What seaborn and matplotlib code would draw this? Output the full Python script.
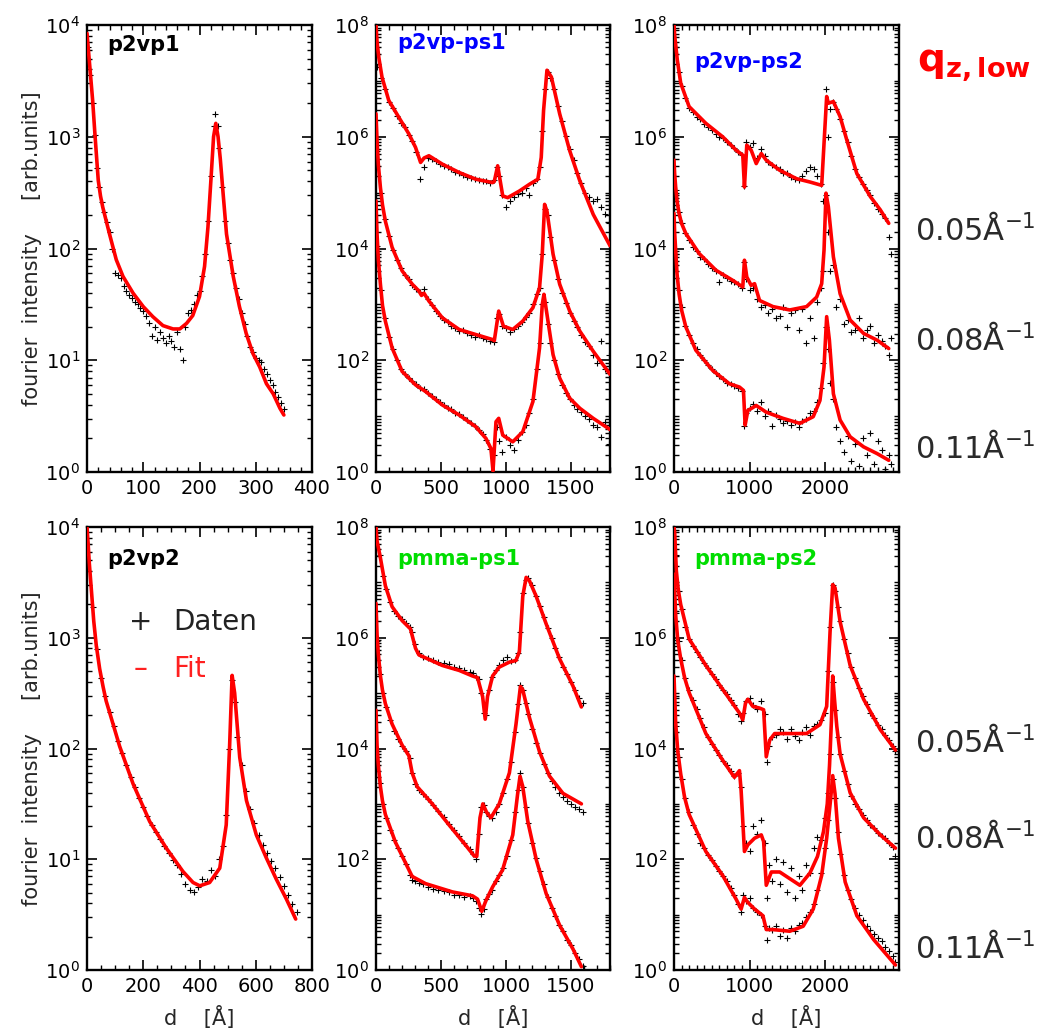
import numpy as np
import matplotlib
matplotlib.use("Agg")
import matplotlib.pyplot as plt
import seaborn as sns
from matplotlib.ticker import FixedLocator, MultipleLocator, LogLocator, NullFormatter

# values are log10(intensity), d in Angstrom

# ---- p2vp1 ----
p2vp1_fit_d = [0, 5, 10, 14, 20, 24, 28, 40, 52, 64, 82, 100, 117, 135, 153, 165, 177, 188, 200, 209,
               215, 221, 225, 229, 233, 237, 242, 248, 260, 271, 283, 295, 307, 319, 331, 343, 350]
p2vp1_fit = [3.925, 3.627, 3.328, 3.03, 2.61, 2.47, 2.37, 2.13, 1.90, 1.75, 1.60, 1.48, 1.39, 1.31, 1.28,
             1.28, 1.33, 1.40, 1.57, 1.84, 2.19, 2.67, 3.0, 3.12, 3.0, 2.8, 2.49, 2.13, 1.75, 1.48, 1.24,
             1.06, 0.94, 0.79, 0.70, 0.57, 0.51]
p2vp1_dat_d = [2, 6, 10, 14, 18, 22, 26, 30, 35, 40, 45, 50, 55, 60, 65, 70, 75, 80, 85, 90, 95, 100,
               105, 110, 115, 120, 125, 130, 135, 140, 145, 150, 155, 160, 165, 170, 175, 180, 185, 190,
               195, 200, 205, 210, 215, 220, 225, 228, 232, 235, 240, 245, 250, 255, 260, 265, 270, 275,
               280, 285, 290, 295, 300, 305, 310, 315, 320, 325, 330, 335, 340, 345, 350]
p2vp1_dat = [3.8, 3.55, 3.3, 3.02, 2.72, 2.55, 2.42, 2.33, 2.24, 2.15, 2.0, 1.78, 1.76, 1.74, 1.66, 1.62,
             1.58, 1.56, 1.52, 1.50, 1.47, 1.44, 1.40, 1.33, 1.22, 1.30, 1.18, 1.25, 1.20, 1.15, 1.22,
             1.17, 1.12, 1.25, 1.10, 1.0, 1.30, 1.42, 1.45, 1.50, 1.58, 1.62, 1.75, 1.95, 2.25, 2.65,
             3.1, 3.2, 3.1, 2.9, 2.55, 2.25, 2.05, 1.9, 1.78, 1.65, 1.55, 1.42, 1.32, 1.22, 1.12, 1.07,
             1.02, 1.0, 0.98, 0.92, 0.88, 0.82, 0.78, 0.72, 0.67, 0.62, 0.56]

# ---- p2vp-ps1 ----
p2vp_ps1_fit_d_q05 = [0, 8, 21, 46, 98, 175, 253, 304, 343, 370, 407, 510, 640, 768, 897, 910, 936, 975,
                      1013, 1104, 1181, 1245, 1271, 1289, 1315, 1349, 1413, 1490, 1568, 1671, 1800]
p2vp_ps1_fit_q05 = [8.0, 7.7, 7.43, 7.07, 6.65, 6.35, 6.05, 5.81, 5.54, 5.62, 5.66, 5.51, 5.36, 5.24,
                    5.18, 5.2, 5.48, 4.94, 4.91, 5.03, 5.15, 5.24, 5.63, 6.47, 7.19, 7.07, 6.41, 5.75,
                    5.21, 4.61, 4.05]
p2vp_ps1_fit_d_q08 = [0, 8, 18, 34, 50, 72, 124, 201, 279, 330, 350, 369, 407, 510, 640, 768, 897, 910,
                      944, 980, 1052, 1129, 1207, 1258, 1279, 1297, 1315, 1362, 1413, 1490, 1568, 1671,
                      1800]
p2vp_ps1_fit_q08 = [6.41, 5.93, 5.5, 5.09, 4.78, 4.49, 4.02, 3.60, 3.36, 3.24, 3.16, 3.20, 3.06, 2.76,
                    2.55, 2.46, 2.37, 2.35, 2.88, 2.61, 2.55, 2.70, 2.94, 3.30, 3.90, 4.79, 4.67, 3.90,
                    3.36, 2.88, 2.52, 2.16, 1.75]
p2vp_ps1_fit_d_q11 = [0, 8, 18, 34, 50, 72, 124, 201, 304, 382, 510, 640, 768, 846, 884, 900, 923, 944,
                      975, 1052, 1129, 1207, 1258, 1279, 1292, 1323, 1362, 1413, 1490, 1568, 1671, 1800]
p2vp_ps1_fit_q11 = [4.85, 4.26, 3.8, 3.36, 2.98, 2.70, 2.22, 1.80, 1.56, 1.44, 1.20, 1.02, 0.81, 0.60,
                    0.42, 0.02, 0.90, 0.96, 0.66, 0.54, 0.72, 1.26, 2.22, 3.00, 3.18, 2.70, 2.10, 1.68,
                    1.32, 1.14, 0.96, 0.76]
p2vp_ps1_dat_d = [10, 40, 70, 100, 130, 160, 190, 220, 250, 280, 310, 340, 370, 400, 430, 460, 490, 520,
                  550, 580, 610, 640, 670, 700, 730, 760, 790, 820, 850, 880, 905, 930, 950, 970, 1000,
                  1030, 1060, 1090, 1120, 1150, 1180, 1210, 1240, 1260, 1280, 1300, 1320, 1340, 1370,
                  1400, 1430, 1460, 1490, 1520, 1550, 1580, 1610, 1640, 1670, 1700, 1730, 1760, 1790]
p2vp_ps1_dat_q05 = [7.25, 7.05, 6.85, 6.62, 6.52, 6.38, 6.25, 6.18, 6.03, 5.92, 5.72, 5.25, 5.45, 5.62,
                    5.60, 5.56, 5.52, 5.48, 5.45, 5.42, 5.37, 5.36, 5.32, 5.28, 5.27, 5.24, 5.22, 5.20,
                    5.20, 5.18, 5.22, 5.45, 5.30, 4.95, 4.75, 4.85, 4.92, 4.98, 5.0, 5.08, 4.95, 5.18,
                    5.25, 5.45, 6.1, 6.85, 7.15, 7.05, 6.85, 6.55, 6.28, 6.02, 5.78, 5.58, 5.35, 5.18,
                    5.0, 4.92, 4.85, 4.88, 4.75, 4.62, 4.45]
p2vp_ps1_dat_q08 = [5.75, 5.0, 4.52, 4.22, 3.98, 3.8, 3.65, 3.52, 3.45, 3.35, 3.28, 3.22, 3.28, 3.1,
                    2.98, 2.88, 2.8, 2.72, 2.68, 2.62, 2.58, 2.52, 2.55, 2.48, 2.46, 2.42, 2.45, 2.40,
                    2.38, 2.35, 2.32, 2.75, 2.82, 2.62, 2.58, 2.50, 2.56, 2.62, 2.68, 2.78, 2.85, 3.0,
                    3.18, 3.3, 3.9, 4.7, 4.6, 4.2, 3.8, 3.45, 3.2, 3.02, 2.85, 2.7, 2.6, 2.45, 2.32,
                    2.25, 2.1, 1.95, 2.35, 1.85, 2.1]
p2vp_ps1_dat_q11 = [4.05, 3.25, 2.75, 2.42, 2.2, 2.0, 1.85, 1.76, 1.68, 1.62, 1.58, 1.5, 1.48, 1.42,
                    1.36, 1.3, 1.25, 1.2, 1.15, 1.12, 1.06, 1.03, 0.98, 0.93, 0.88, 0.83, 0.76, 0.68,
                    0.58, 0.42, 0.3, 0.8, 0.55, 0.35, 0.62, 0.48, 0.4, 0.58, 0.72, 0.85, 1.05, 1.3,
                    1.85, 2.3, 3.0, 3.05, 2.65, 2.3, 2.0, 1.75, 1.55, 1.42, 1.3, 1.2, 1.12, 1.08, 1.0,
                    0.95, 0.85, 0.8, 0.62, 0.9, 0.5]

# ---- p2vp-ps2 ----
p2vp_ps2_fit_d_q05 = [0, 10, 44, 89, 200, 422, 644, 822, 911, 933, 964, 1022, 1089, 1156, 1222, 1400,
                      1622, 1800, 1956, 1987, 2022, 2044, 2111, 2200, 2289, 2422, 2600, 2733, 2844]
p2vp_ps2_fit_q05 = [8.0, 7.8, 7.37, 6.96, 6.54, 6.24, 6.00, 5.76, 5.67, 5.10, 5.85, 5.76, 5.52, 5.70,
                    5.58, 5.40, 5.25, 5.19, 5.13, 5.88, 6.72, 6.60, 6.63, 6.36, 5.94, 5.34, 4.93, 4.69,
                    4.45]
p2vp_ps2_fit_d_q08 = [0, 8, 22, 40, 67, 100, 156, 333, 556, 778, 911, 933, 964, 1022, 1067, 1133, 1311,
                      1533, 1756, 1889, 1956, 1987, 2013, 2044, 2111, 2200, 2333, 2511, 2689, 2844]
p2vp_ps2_fit_q08 = [5.58, 5.35, 5.10, 4.85, 4.63, 4.45, 4.27, 3.91, 3.61, 3.43, 3.31, 3.79, 3.49, 3.34,
                    3.37, 3.07, 2.96, 2.90, 2.96, 3.13, 3.37, 3.97, 4.99, 4.75, 3.85, 3.19, 2.72, 2.48,
                    2.36, 2.21]
p2vp_ps2_fit_d_q11 = [0, 8, 22, 40, 67, 100, 156, 289, 511, 733, 867, 920, 942, 978, 1089, 1222, 1444,
                      1667, 1844, 1933, 1987, 2022, 2058, 2111, 2200, 2333, 2511, 2689, 2844]
p2vp_ps2_fit_q11 = [4.63, 4.3, 3.97, 3.55, 3.19, 2.9, 2.60, 2.18, 1.82, 1.58, 1.52, 1.46, 0.84, 1.10,
                    1.19, 1.07, 0.96, 0.87, 0.99, 1.28, 1.88, 2.78, 2.36, 1.40, 0.93, 0.63, 0.45, 0.33,
                    0.21]
p2vp_ps2_dat_d = [20, 60, 100, 150, 200, 250, 300, 350, 400, 450, 500, 550, 600, 650, 700, 750, 800, 850,
                  900, 930, 960, 1000, 1050, 1100, 1150, 1200, 1250, 1300, 1350, 1400, 1450, 1500, 1550,
                  1600, 1650, 1700, 1750, 1800, 1850, 1900, 1950, 1980, 2010, 2040, 2070, 2100, 2150,
                  2200, 2250, 2300, 2350, 2400, 2450, 2500, 2550, 2600, 2650, 2700, 2750, 2800, 2850, 2880]
p2vp_ps2_dat_q05 = [7.6, 7.15, 6.9, 6.7, 6.52, 6.45, 6.35, 6.32, 6.22, 6.18, 6.12, 6.05, 6.0, 5.98, 5.9,
                    5.85, 5.8, 5.72, 5.68, 5.12, 5.9, 5.82, 5.88, 5.62, 5.78, 5.65, 5.55, 5.50, 5.45,
                    5.42, 5.35, 5.35, 5.28, 5.25, 5.22, 5.3, 5.38, 5.45, 5.42, 5.3, 5.15, 4.85, 6.85,
                    6.0, 6.5, 6.62, 6.5, 6.32, 6.1, 5.9, 5.65, 5.42, 5.28, 5.15, 5.05, 4.95, 4.82, 4.7,
                    4.62, 4.55, 4.2, 3.9]
p2vp_ps2_dat_q08 = [5.05, 4.65, 4.45, 4.28, 4.15, 4.02, 3.95, 3.85, 3.82, 3.72, 3.65, 3.6, 3.4, 3.52,
                    3.48, 3.42, 3.4, 3.36, 3.3, 3.75, 3.45, 3.25, 3.3, 3.1, 2.95, 2.98, 2.85, 2.92, 2.75,
                    2.8, 2.95, 2.6, 2.85, 2.9, 2.55, 2.92, 2.3, 2.75, 2.4, 3.05, 3.3, 3.6, 4.95, 4.3,
                    3.6, 3.7, 2.95, 3.1, 2.65, 2.72, 2.5, 2.55, 2.75, 2.4, 2.55, 2.62, 2.3, 2.45, 2.35,
                    2.25, 2.1, 2.4]
p2vp_ps2_dat_q11 = [3.9, 3.25, 2.95, 2.62, 2.45, 2.3, 2.2, 2.1, 2.0, 1.92, 1.85, 1.78, 1.72, 1.66, 1.6,
                    1.58, 1.54, 1.5, 1.45, 0.82, 1.05, 1.15, 1.22, 1.1, 1.25, 1.0, 1.1, 0.82, 1.02, 0.95,
                    0.88, 0.92, 0.85, 0.9, 0.8, 0.92, 0.95, 1.05, 1.1, 1.25, 1.5, 1.95, 2.6, 2.2, 1.6,
                    1.3, 0.8, 0.55, 0.35, 0.65, 0.2, 0.5, 0.1, 0.6, 0.3, 0.7, 0.15, 0.55, 0.4, 0.05,
                    0.3, 0.15]

# ---- p2vp2 ----
p2vp2_fit_d = [0, 4, 8, 15, 24, 33, 45, 57, 68, 81, 116, 164, 223, 282, 341, 377, 401, 436, 472, 495,
               507, 516, 525, 543, 567, 602, 638, 673, 709, 742]
p2vp2_fit = [4.0, 3.85, 3.68, 3.45, 3.15, 2.93, 2.72, 2.56, 2.43, 2.32, 2.02, 1.68, 1.34, 1.10, 0.89,
             0.79, 0.76, 0.79, 0.92, 1.31, 2.02, 2.66, 2.50, 1.92, 1.53, 1.22, 1.01, 0.82, 0.64, 0.46]
p2vp2_dat_d = [5, 20, 35, 50, 65, 80, 95, 110, 125, 140, 155, 170, 185, 200, 215, 230, 245, 260, 275,
               290, 305, 320, 335, 350, 365, 380, 395, 410, 425, 440, 455, 470, 485, 495, 505, 515, 525,
               535, 550, 565, 580, 595, 610, 625, 640, 655, 670, 685, 700, 715, 730, 745]
p2vp2_dat = [3.85, 3.28, 2.9, 2.64, 2.47, 2.33, 2.2, 2.07, 1.96, 1.85, 1.74, 1.65, 1.55, 1.47, 1.39,
             1.31, 1.25, 1.18, 1.12, 1.06, 0.99, 0.95, 0.87, 0.78, 0.72, 0.70, 0.75, 0.82, 0.80, 0.9,
             0.85, 1.0, 1.12, 1.4, 2.0, 2.62, 2.42, 2.1, 1.85, 1.62, 1.45, 1.33, 1.22, 1.13, 1.06,
             0.98, 0.92, 0.84, 0.76, 0.68, 0.6, 0.52]

# ---- pmma-ps1 ----
pmma_ps1_fit_d_q05 = [0, 8, 34, 72, 124, 201, 265, 304, 330, 510, 640, 742, 781, 820, 840, 858, 897, 948,
                      1026, 1077, 1103, 1129, 1155, 1180, 1232, 1309, 1412, 1515, 1580]
pmma_ps1_fit_q05 = [8.0, 7.75, 7.44, 6.94, 6.56, 6.31, 6.16, 5.81, 5.69, 5.50, 5.41, 5.31, 5.28, 4.94,
                    4.53, 4.94, 5.31, 5.47, 5.56, 5.59, 5.75, 6.75, 7.09, 7.03, 6.75, 6.25, 5.62, 5.13,
                    4.75]
pmma_ps1_fit_d_q08 = [0, 8, 18, 34, 50, 72, 124, 201, 253, 278, 317, 433, 562, 691, 755, 775, 800, 822,
                      850, 884, 948, 1026, 1077, 1111, 1129, 1180, 1258, 1335, 1438, 1580]
pmma_ps1_fit_q08 = [6.62, 6.06, 5.7, 5.31, 5.05, 4.81, 4.44, 4.06, 3.87, 3.56, 3.31, 3.00, 2.62, 2.25,
                    2.06, 2.05, 2.75, 3.0, 2.85, 2.75, 3.0, 3.56, 4.44, 5.12, 5.06, 4.56, 3.94, 3.50,
                    3.19, 3.00]
pmma_ps1_fit_d_q11 = [0, 8, 18, 34, 50, 72, 149, 253, 278, 381, 588, 742, 781, 814, 845, 897, 974, 1052,
                      1090, 1108, 1129, 1167, 1232, 1309, 1412, 1515, 1580]
pmma_ps1_fit_q11 = [4.69, 4.06, 3.7, 3.31, 3.05, 2.81, 2.31, 1.81, 1.69, 1.56, 1.41, 1.34, 1.28, 1.06,
                    1.25, 1.50, 1.81, 2.44, 3.19, 3.50, 3.31, 2.69, 2.00, 1.38, 0.81, 0.38, 0.06]
pmma_ps1_dat_d = [10, 30, 55, 80, 110, 140, 170, 200, 230, 260, 280, 300, 330, 360, 400, 440, 480, 520,
                  560, 600, 640, 680, 720, 750, 770, 790, 810, 830, 850, 870, 890, 920, 950, 980, 1010,
                  1040, 1070, 1090, 1110, 1130, 1150, 1170, 1200, 1230, 1260, 1290, 1320, 1350, 1380,
                  1410, 1440, 1470, 1500, 1530, 1560, 1590]
pmma_ps1_dat_q05 = [7.9, 7.5, 7.12, 6.88, 6.65, 6.48, 6.4, 6.33, 6.27, 6.2, 6.1, 5.88, 5.72, 5.66, 5.63,
                    5.6, 5.57, 5.55, 5.52, 5.48, 5.45, 5.42, 5.38, 5.36, 5.3, 5.25, 5.0, 4.65, 4.6, 5.05,
                    5.3, 5.42, 5.5, 5.6, 5.65, 5.58, 5.6, 5.72, 6.1, 6.8, 7.05, 7.08, 6.95, 6.76, 6.58,
                    6.38, 6.18, 6.0, 5.82, 5.65, 5.48, 5.35, 5.2, 5.05, 4.92, 4.82]
pmma_ps1_dat_q08 = [5.95, 5.35, 5.0, 4.75, 4.52, 4.32, 4.18, 4.05, 3.95, 3.82, 3.55, 3.35, 3.25, 3.18,
                    3.08, 2.98, 2.88, 2.76, 2.63, 2.52, 2.42, 2.3, 2.18, 2.1, 2.0, 2.45, 2.95, 2.98, 2.85,
                    2.78, 2.75, 2.85, 3.0, 3.2, 3.45, 3.75, 4.3, 4.8, 5.15, 5.05, 4.82, 4.62, 4.35, 4.1,
                    3.92, 3.72, 3.55, 3.42, 3.3, 3.2, 3.12, 3.05, 3.0, 2.95, 2.9, 2.85]
pmma_ps1_dat_q11 = [3.95, 3.38, 3.0, 2.75, 2.52, 2.35, 2.2, 2.05, 1.92, 1.72, 1.62, 1.6, 1.58, 1.55, 1.5,
                    1.46, 1.44, 1.42, 1.4, 1.36, 1.35, 1.32, 1.33, 1.3, 1.25, 1.12, 1.02, 1.1, 1.28, 1.38,
                    1.45, 1.6, 1.72, 1.85, 2.05, 2.35, 2.85, 3.25, 3.55, 3.3, 2.95, 2.65, 2.3, 2.02, 1.78,
                    1.55, 1.32, 1.12, 0.98, 0.82, 0.7, 0.55, 0.45, 0.3, 0.2, 0.08]

# ---- pmma-ps2 ----
pmma_ps2_fit_d_q05 = [0, 9, 31, 55, 89, 200, 422, 644, 867, 911, 947, 978, 1044, 1133, 1187, 1222, 1267,
                      1333, 1533, 1756, 1933, 2022, 2067, 2102, 2133, 2200, 2333, 2511, 2733, 2933]
pmma_ps2_fit_q05 = [8.0, 7.9, 7.21, 6.88, 6.60, 5.98, 5.50, 5.07, 4.64, 4.52, 4.82, 4.89, 4.76, 4.73,
                    4.70, 3.85, 4.15, 4.27, 4.27, 4.27, 4.43, 4.76, 6.11, 6.96, 6.90, 6.29, 5.50, 4.89,
                    4.34, 3.97]
pmma_ps2_fit_d_q08 = [0, 22, 50, 89, 140, 200, 422, 644, 800, 867, 889, 933, 978, 1067, 1156, 1187, 1222,
                      1289, 1400, 1533, 1667, 1800, 1900, 1980, 2030, 2060, 2085, 2102, 2125, 2156, 2200,
                      2333, 2511, 2733, 2933]
pmma_ps2_fit_q08 = [7.15, 6.41, 5.95, 5.62, 5.28, 5.01, 4.27, 3.79, 3.48, 3.60, 3.24, 2.14, 2.26, 2.38,
                    2.44, 2.32, 1.53, 1.77, 1.77, 1.65, 1.53, 1.75, 2.05, 2.5, 3.0, 3.7, 4.5, 5.31, 4.9,
                    4.4, 3.9, 3.2, 2.75, 2.44, 2.20]
pmma_ps2_fit_d_q11 = [0, 22, 50, 89, 140, 200, 422, 644, 822, 889, 933, 978, 1067, 1178, 1222, 1311, 1533,
                      1711, 1844, 1956, 2022, 2076, 2102, 2133, 2178, 2267, 2422, 2644, 2933]
pmma_ps2_fit_q11 = [5.31, 4.46, 3.95, 3.54, 3.12, 2.81, 2.14, 1.71, 1.28, 1.10, 1.31, 1.22, 1.10, 0.98,
                    0.73, 0.73, 0.70, 0.79, 1.10, 1.71, 2.38, 3.11, 3.51, 3.18, 2.38, 1.59, 0.98, 0.55,
                    0.09]
pmma_ps2_dat_d = [20, 60, 100, 150, 200, 250, 300, 350, 400, 450, 500, 550, 600, 650, 700, 750, 800, 850,
                  890, 920, 950, 1000, 1050, 1100, 1150, 1200, 1230, 1260, 1300, 1350, 1400, 1450, 1500,
                  1550, 1600, 1650, 1700, 1750, 1800, 1850, 1900, 1950, 2000, 2040, 2070, 2100, 2130,
                  2170, 2200, 2250, 2300, 2350, 2400, 2450, 2500, 2550, 2600, 2650, 2700, 2750, 2800,
                  2850, 2900, 2930]
pmma_ps2_dat_q05 = [7.5, 6.85, 6.52, 6.2, 5.98, 5.85, 5.75, 5.65, 5.55, 5.45, 5.35, 5.25, 5.15, 5.05,
                    4.98, 4.88, 4.78, 4.62, 4.5, 4.65, 4.85, 4.92, 4.78, 4.72, 4.85, 4.62, 3.75, 4.05,
                    4.2, 4.25, 4.35, 4.3, 4.18, 4.35, 4.22, 4.15, 4.3, 4.38, 4.25, 4.4, 4.45, 4.52, 4.65,
                    5.4, 6.2, 6.95, 6.85, 6.55, 6.3, 5.98, 5.72, 5.48, 5.28, 5.1, 4.95, 4.8, 4.65, 4.55,
                    4.42, 4.35, 4.25, 4.15, 4.05, 3.95]
pmma_ps2_dat_q08 = [6.45, 5.95, 5.6, 5.28, 5.05, 4.88, 4.72, 4.55, 4.38, 4.2, 4.08, 3.98, 3.88, 3.78,
                    3.7, 3.6, 3.5, 3.55, 3.3, 2.6, 2.3, 2.15, 2.6, 2.45, 2.7, 2.3, 1.3, 1.9, 1.6, 2.0,
                    1.55, 1.95, 1.4, 1.85, 1.3, 1.7, 1.45, 1.9, 1.75, 2.2, 2.4, 2.35, 2.75, 3.2, 3.9,
                    5.2, 4.7, 4.2, 3.9, 3.6, 3.35, 3.15, 3.0, 2.9, 2.8, 2.7, 2.62, 2.56, 2.48, 2.42,
                    2.38, 2.3, 2.22, 2.05]
pmma_ps2_dat_q11 = [4.4, 3.85, 3.45, 3.1, 2.85, 2.62, 2.45, 2.3, 2.2, 2.08, 1.98, 1.88, 1.78, 1.7, 1.6,
                    1.48, 1.35, 1.2, 1.05, 1.35, 1.25, 1.3, 1.12, 1.05, 1.0, 0.8, 0.55, 0.75, 0.72, 0.8,
                    0.62, 0.72, 0.58, 0.75, 0.7, 0.82, 0.85, 0.95, 1.05, 1.2, 1.45, 1.75, 2.2, 2.7, 3.1,
                    3.45, 3.1, 2.5, 2.1, 1.72, 1.45, 1.28, 1.12, 1.0, 0.9, 0.8, 0.72, 0.65, 0.58, 0.52,
                    0.42, 0.35, 0.25, 0.15]

q_labels = ["0.05Å$^{-1}$", "0.08Å$^{-1}$", "0.11Å$^{-1}$"]

sns.set_style("ticks")
plt.rcParams["font.family"] = ["DejaVu Sans"]
plt.rcParams["mathtext.fontset"] = "dejavusans"

W, H = 1050, 1034
fig = plt.figure(figsize=(W / 100, H / 100), dpi=100)

BLUE = "#0000ff"
GREEN = "#00dd00"

panels = [
    dict(name="p2vp1", color="black", col=0, row=0, xmax=400, xmaj=100, xmin=20, ytop=4,
         dat_d=p2vp1_dat_d, dats=[p2vp1_dat], fits=[(p2vp1_fit_d, p2vp1_fit)], ty=0.955),
    dict(name="p2vp-ps1", color=BLUE, col=1, row=0, xmax=1800, xmaj=500, xmin=100, ytop=8,
         dat_d=p2vp_ps1_dat_d, dats=[p2vp_ps1_dat_q05, p2vp_ps1_dat_q08, p2vp_ps1_dat_q11],
         fits=[(p2vp_ps1_fit_d_q05, p2vp_ps1_fit_q05), (p2vp_ps1_fit_d_q08, p2vp_ps1_fit_q08),
               (p2vp_ps1_fit_d_q11, p2vp_ps1_fit_q11)], ty=0.96),
    dict(name="p2vp-ps2", color=BLUE, col=2, row=0, xmax=2980, xmaj=1000, xmin=100, ytop=8,
         dat_d=p2vp_ps2_dat_d, dats=[p2vp_ps2_dat_q05, p2vp_ps2_dat_q08, p2vp_ps2_dat_q11],
         fits=[(p2vp_ps2_fit_d_q05, p2vp_ps2_fit_q05), (p2vp_ps2_fit_d_q08, p2vp_ps2_fit_q08),
               (p2vp_ps2_fit_d_q11, p2vp_ps2_fit_q11)], ty=0.917),
    dict(name="p2vp2", color="black", col=0, row=1, xmax=800, xmaj=200, xmin=50, ytop=4,
         dat_d=p2vp2_dat_d, dats=[p2vp2_dat], fits=[(p2vp2_fit_d, p2vp2_fit)], ty=0.928),
    dict(name="pmma-ps1", color=GREEN, col=1, row=1, xmax=1800, xmaj=500, xmin=100, ytop=8,
         dat_d=pmma_ps1_dat_d, dats=[pmma_ps1_dat_q05, pmma_ps1_dat_q08, pmma_ps1_dat_q11],
         fits=[(pmma_ps1_fit_d_q05, pmma_ps1_fit_q05), (pmma_ps1_fit_d_q08, pmma_ps1_fit_q08),
               (pmma_ps1_fit_d_q11, pmma_ps1_fit_q11)], ty=0.928),
    dict(name="pmma-ps2", color=GREEN, col=2, row=1, xmax=2980, xmaj=1000, xmin=100, ytop=8,
         dat_d=pmma_ps2_dat_d, dats=[pmma_ps2_dat_q05, pmma_ps2_dat_q08, pmma_ps2_dat_q11],
         fits=[(pmma_ps2_fit_d_q05, pmma_ps2_fit_q05), (pmma_ps2_fit_d_q08, pmma_ps2_fit_q08),
               (pmma_ps2_fit_d_q11, pmma_ps2_fit_q11)], ty=0.928),
]

col_px = [(87, 225), (376, 234), (674, 225)]
row_px = [(25, 472), (527, 970)]

for p in panels:
    x0, w = col_px[p["col"]]
    t, b = row_px[p["row"]]
    ax = fig.add_axes([x0 / W, 1 - b / H, w / W, (b - t) / H])

    for ys in p["dats"]:
        sns.scatterplot(x=p["dat_d"], y=np.power(10.0, ys), marker="+", color="black", s=14,
                        linewidth=0.8, ax=ax, zorder=2, legend=False)
    for fd, fy in p["fits"]:
        sns.lineplot(x=fd, y=np.power(10.0, fy), color="#ff0000", linewidth=2.6, ax=ax,
                     estimator=None, sort=False, zorder=3, legend=False)

    ax.set_yscale("log")
    ax.set_xlim(0, p["xmax"])
    ax.set_ylim(1, 10 ** p["ytop"])
    ax.xaxis.set_major_locator(MultipleLocator(p["xmaj"]))
    ax.xaxis.set_minor_locator(MultipleLocator(p["xmin"]))
    step = 1 if p["ytop"] == 4 else 2
    ax.yaxis.set_major_locator(FixedLocator([10.0 ** k for k in range(0, p["ytop"] + 1, step)]))
    ax.yaxis.set_minor_locator(LogLocator(base=10, subs=np.arange(1, 10), numticks=100))
    ax.yaxis.set_minor_formatter(NullFormatter())
    ax.tick_params(which="both", direction="in", top=True, right=True, labelsize=14, colors="black")
    ax.tick_params(which="major", length=7, width=1.2, pad=5)
    ax.tick_params(which="minor", length=3.5, width=1.0)
    for s in ax.spines.values():
        s.set_linewidth(1.7)
        s.set_color("black")
    ax.set_xlabel("")
    ax.set_ylabel("")

    ax.text(0.09, p["ty"], p["name"], transform=ax.transAxes, fontsize=15, fontweight="bold",
            color=p["color"], ha="left", va="center")

    if p["row"] == 1:
        fig.text((x0 + w / 2) / W, 1 - 1018 / H, "d    [Å]", fontsize=15, ha="center", va="center")

    if p["name"] == "p2vp2":
        fig.text(141 / W, 1 - 622 / H, "+", fontsize=20, color="#222222", ha="center", va="center")
        fig.text(173 / W, 1 - 622 / H, "Daten", fontsize=20, color="#222222", ha="left", va="center")
        fig.text(141 / W, 1 - 669 / H, "–", fontsize=20, color="#ff2020", ha="center", va="center")
        fig.text(173 / W, 1 - 669 / H, "Fit", fontsize=20, color="#ff2020", ha="left", va="center")

# y axis titles
for t, b in row_px:
    fig.text(32 / W, 1 - (t + b) / 2 / H, "fourier  intensity     [arb.units]", rotation=90,
             fontsize=15, ha="center", va="center")

# q labels at the right
fig.text(917 / W, 1 - 72 / H, r"$\mathbf{q}_{\mathbf{z,low}}$", fontsize=28, color="#ff0000",
         ha="left", va="baseline")
for yc, lab in zip([230, 340, 448], q_labels):
    fig.text(915 / W, 1 - yc / H, lab, fontsize=22, color="#2a2a2a", ha="left", va="center")
for yc, lab in zip([742, 837, 948], q_labels):
    fig.text(915 / W, 1 - yc / H, lab, fontsize=22, color="#2a2a2a", ha="left", va="center")

fig.savefig("out.png", dpi=100)
